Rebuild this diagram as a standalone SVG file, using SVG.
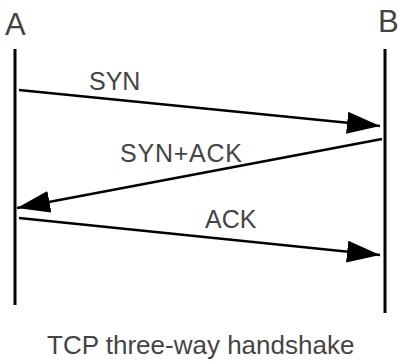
<svg xmlns="http://www.w3.org/2000/svg" width="399" height="362" viewBox="0 0 399 362">
<defs>
<style>
text{font-family:"Liberation Sans",Arial,sans-serif;fill:#444}
.lbl{font-size:25px}
.cap{font-size:26px}
.name{font-size:31px}
.life{stroke:#000;stroke-width:3;fill:none}
.msg{stroke:#000;stroke-width:2.5;fill:none;marker-end:url(#ah)}
</style>
<marker id="ah" markerUnits="userSpaceOnUse" markerWidth="34" markerHeight="22" refX="33" refY="11" orient="auto">
<path d="M0,0 L33,11 L0,22 z" fill="#000"/>
</marker>
</defs>
<g id="nodeA">
<text class="name" x="5" y="35">A</text>
<line class="life" x1="15" y1="49" x2="15" y2="305"/>
</g>
<g id="nodeB">
<text class="name" x="378" y="32">B</text>
<line class="life" x1="385" y1="49" x2="385" y2="313"/>
</g>
<g id="connectors">
<line class="msg" x1="19" y1="90" x2="380" y2="126"/>
<line class="msg" x1="382" y1="139" x2="17" y2="208"/>
<line class="msg" x1="19" y1="218" x2="380" y2="255"/>
</g>
<g id="labels">
<text class="lbl" x="89" y="90">SYN</text>
<text class="lbl" x="120" y="162" textLength="122">SYN+ACK</text>
<text class="lbl" x="205" y="228">ACK</text>
</g>
<g id="caption">
<text class="cap" x="47" y="354">TCP three-way handshake</text>
</g>
</svg>
